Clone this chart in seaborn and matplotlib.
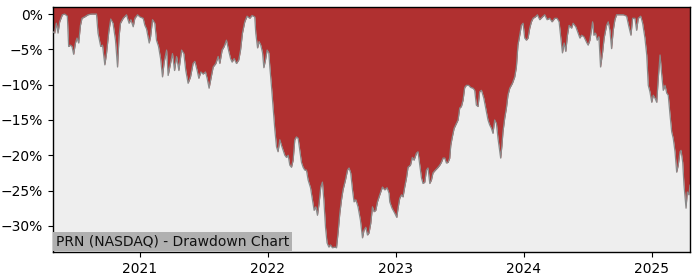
import numpy as np
import pandas as pd
import matplotlib
matplotlib.use("Agg")
import matplotlib.pyplot as plt
import matplotlib.dates as mdates
from matplotlib.ticker import FuncFormatter
import seaborn as sns

title_text = "PRN (NASDAQ) - Drawdown Chart"

# time as decimal years
years = [
    2020.323, 2020.336, 2020.349, 2020.362, 2020.375, 2020.396, 2020.414, 2020.435, 2020.445, 2020.459,
    2020.471, 2020.484, 2020.498, 2020.510, 2020.523, 2020.537, 2020.549, 2020.570, 2020.596, 2020.623,
    2020.662, 2020.674, 2020.695, 2020.709, 2020.727, 2020.740, 2020.758, 2020.773, 2020.791, 2020.810,
    2020.826, 2020.838, 2020.849, 2020.870, 2020.896, 2020.916, 2020.930, 2020.948, 2020.961, 2020.982,
    2021.000, 2021.026, 2021.039, 2021.052, 2021.073, 2021.084, 2021.099, 2021.117, 2021.130, 2021.146,
    2021.162, 2021.177, 2021.190, 2021.209, 2021.221, 2021.234, 2021.255, 2021.271, 2021.287, 2021.305,
    2021.326, 2021.344, 2021.359, 2021.377, 2021.396, 2021.416, 2021.430, 2021.448, 2021.461, 2021.477,
    2021.495, 2021.513, 2021.526, 2021.541, 2021.560, 2021.573, 2021.594, 2021.612, 2021.625, 2021.643,
    2021.659, 2021.677, 2021.693, 2021.709, 2021.721, 2021.737, 2021.755, 2021.773, 2021.787, 2021.802,
    2021.820, 2021.838, 2021.859, 2021.877, 2021.898,
    2021.906, 2021.920, 2021.932, 2021.945, 2021.959, 2021.969, 2021.982, 2021.995, 2022.008, 2022.016,
    2022.029, 2022.041, 2022.055, 2022.068, 2022.080, 2022.094, 2022.107, 2022.120, 2022.133, 2022.146,
    2022.159, 2022.172, 2022.185, 2022.198, 2022.211, 2022.224, 2022.237, 2022.250, 2022.263, 2022.276,
    2022.289, 2022.302, 2022.315,
    2022.334, 2022.349, 2022.362, 2022.375, 2022.388, 2022.401, 2022.414, 2022.427, 2022.438, 2022.451,
    2022.463, 2022.477, 2022.490, 2022.505, 2022.523, 2022.537, 2022.549, 2022.563, 2022.576, 2022.588,
    2022.607, 2022.623, 2022.635, 2022.648, 2022.662, 2022.674, 2022.688, 2022.705, 2022.724, 2022.740,
    2022.752, 2022.766, 2022.779, 2022.791, 2022.805, 2022.818, 2022.830, 2022.844, 2022.857, 2022.875,
    2022.896, 2022.914, 2022.932, 2022.948,
    2022.953, 2022.971, 2022.992, 2023.008, 2023.018, 2023.031, 2023.045, 2023.057, 2023.070, 2023.084,
    2023.096, 2023.115, 2023.130, 2023.143, 2023.162, 2023.174, 2023.188, 2023.201, 2023.213, 2023.227,
    2023.240, 2023.252, 2023.266, 2023.279, 2023.291, 2023.310, 2023.326, 2023.344, 2023.357, 2023.370,
    2023.383, 2023.396, 2023.409, 2023.422, 2023.430, 2023.440, 2023.456, 2023.474, 2023.487, 2023.500,
    2023.513, 2023.526, 2023.539, 2023.552, 2023.570, 2023.586, 2023.604, 2023.617,
    2023.630, 2023.643, 2023.656, 2023.670, 2023.688, 2023.709, 2023.721, 2023.734, 2023.748, 2023.760,
    2023.773, 2023.787, 2023.799, 2023.813, 2023.820, 2023.830, 2023.838, 2023.852, 2023.865, 2023.877,
    2023.891, 2023.912, 2023.930, 2023.943, 2023.955, 2023.969, 2023.982, 2023.995, 2024.008, 2024.021,
    2024.034, 2024.047, 2024.060, 2024.073, 2024.091, 2024.107, 2024.125, 2024.146, 2024.164, 2024.182,
    2024.203, 2024.221, 2024.242, 2024.260, 2024.276, 2024.287, 2024.302, 2024.315, 2024.328, 2024.341,
    2024.354, 2024.373, 2024.385, 2024.406, 2024.424,
    2024.438, 2024.451, 2024.469, 2024.490, 2024.502, 2024.516, 2024.537, 2024.547, 2024.560, 2024.573,
    2024.586, 2024.599, 2024.615, 2024.627, 2024.646, 2024.659, 2024.672, 2024.685, 2024.698, 2024.711,
    2024.724, 2024.750, 2024.776, 2024.802, 2024.820, 2024.836, 2024.849, 2024.867, 2024.880, 2024.893,
    2024.912, 2024.927, 2024.945, 2024.959, 2024.971, 2024.984, 2024.998, 2025.010, 2025.023, 2025.037,
    2025.049, 2025.063, 2025.076, 2025.088, 2025.102, 2025.115, 2025.127, 2025.141, 2025.154, 2025.166,
    2025.180, 2025.193, 2025.205, 2025.219, 2025.227, 2025.240, 2025.250, 2025.266, 2025.276, 2025.289,
    2025.297,
]

drawdown_pct = [
    -2.5, -2.7, -1.3, -2.7, -1.1, -0.1, 0.0, -0.3, -4.6, -4.4,
    -4.6, -5.7, -4.1, -3.4, -4.1, -1.6, -0.6, -0.4, -0.1, 0.0,
    0.0, -2.7, -4.6, -4.4, -7.2, -5.6, -2.5, -0.7, -1.3, -3.7,
    -7.5, -3.2, -1.3, -0.6, -0.1, -1.3, -0.8, -1.8, -0.6, -0.1,
    -0.4, -0.6, -1.6, -2.1, -4.1, -3.2, -0.8, -1.3, -3.7, -4.6,
    -6.3, -8.9, -6.8, -5.1, -8.7, -7.5, -5.6, -8.0, -6.0, -8.0,
    -5.1, -5.6, -8.0, -9.8, -8.9, -7.0, -6.7, -8.0, -9.1, -8.2,
    -8.5, -8.2, -9.1, -10.5, -8.7, -7.5, -7.0, -6.0, -7.0, -5.1,
    -4.6, -3.7, -5.1, -6.3, -6.8, -6.3, -7.0, -6.5, -5.1, -2.7,
    -1.1, -0.3, -0.6, -0.2, -0.4,
    -2.7, -4.8, -3.9, -4.4, -5.5, -7.6, -6.5, -5.1, -5.5, -7.5,
    -10.3, -13.1, -16.4, -18.8, -19.5, -17.8, -18.6, -19.3, -20.0, -20.3,
    -20.0, -21.4, -21.7, -20.7, -17.8, -17.4, -17.6, -19.3, -21.0, -21.7,
    -22.1, -22.1, -23.5,
    -24.6, -26.3, -27.8, -27.3, -28.5, -26.8, -24.5, -23.8, -26.3, -30.2,
    -32.4, -33.0, -32.7, -33.1, -33.0, -33.1, -31.0, -28.2, -26.3, -24.9,
    -23.5, -22.1, -21.8, -22.5, -24.9, -26.6, -26.3, -27.3, -29.2, -31.7,
    -30.6, -30.2, -31.3, -31.0, -29.6, -27.3, -28.0, -27.8, -26.6, -25.6,
    -24.5, -24.9, -24.6, -25.4,
    -26.6, -27.5, -28.2, -28.8, -27.5, -26.1, -25.6, -25.9, -24.5, -23.2,
    -21.7, -21.4, -20.3, -20.7, -19.7, -19.5, -21.4, -23.2, -24.0, -23.8,
    -22.1, -21.8, -24.0, -23.5, -22.5, -22.1, -21.8, -21.4, -21.0, -20.4,
    -20.4, -21.1, -21.0, -20.4, -18.6, -17.6, -16.2, -15.5, -15.0, -13.3,
    -13.1, -12.2, -10.4, -10.1, -10.1, -10.4, -10.5, -10.8,
    -12.9, -13.1, -11.0, -10.8, -11.9, -13.9, -15.0, -15.7, -16.2, -16.9,
    -15.0, -15.5, -17.6, -19.5, -20.4, -18.6, -16.7, -14.7, -13.3, -11.5,
    -10.5, -9.8, -8.9, -7.5, -4.4, -3.0, -1.6, -1.3, -3.4, -3.7,
    -3.4, -2.0, -1.1, -0.6, -0.4, -0.1, -0.8, -0.4, -0.1, -0.8,
    -0.6, -1.1, -0.6, -0.6, -1.1, -3.0, -5.5, -4.1, -5.3, -3.0,
    -1.6, -2.0, -1.3, -1.8, -2.7,
    -3.4, -3.0, -3.2, -4.0, -4.4, -3.7, -1.1, -3.0, -2.7, -3.7,
    -3.2, -7.5, -5.4, -3.4, -1.6, -1.1, -2.3, -4.9, -2.3, -0.8,
    -0.1, -0.1, -0.1, -0.3, -1.8, -3.0, -0.6, -0.6, -2.3, -0.6,
    -0.3, -1.3, -3.4, -5.8, -10.1, -11.0, -12.5, -11.5, -11.9, -12.5,
    -9.1, -5.8, -8.6, -10.8, -10.1, -11.2, -11.5, -14.3, -16.7, -17.6,
    -19.5, -22.4, -21.4, -19.5, -19.3, -21.0, -24.2, -27.5, -25.2, -25.6,
    -24.2,
]

y_ticks = [0, -5, -10, -15, -20, -25, -30]


def decimal_year_to_ts(y):
    yr = int(np.floor(y))
    start = pd.Timestamp(year=yr, month=1, day=1)
    end = pd.Timestamp(year=yr + 1, month=1, day=1)
    return start + (end - start) * (y - yr)


dates = [decimal_year_to_ts(y) for y in years]
df = pd.DataFrame({"date": dates, "dd": drawdown_pct})

sns.set_style("ticks")
plt.rcParams["font.family"] = ["DejaVu Sans"]

fig = plt.figure(figsize=(7.0, 2.8), dpi=100)
ax = fig.add_axes([0.0757, 0.1, 0.91, 0.875])
ax.set_facecolor("#eeeeee")

y_top, y_bottom = 1.0, -33.7
ax.set_ylim(y_bottom, y_top)
ax.fill_between(df["date"], df["dd"], y_top, color="#b03030", linewidth=0, zorder=2)
sns.lineplot(data=df, x="date", y="dd", ax=ax, color="#8a8a8a", linewidth=0.9, zorder=3)

ax.set_xlim(df["date"].iloc[0], df["date"].iloc[-1])
ax.set_ylim(y_bottom, y_top)
ax.set_yticks(y_ticks)
ax.yaxis.set_major_formatter(FuncFormatter(lambda v, p: f"{int(round(v))}%".replace("-", "\u2212")))
ax.xaxis.set_major_locator(mdates.YearLocator())
ax.xaxis.set_major_formatter(mdates.DateFormatter("%Y"))
ax.set_xlabel("")
ax.set_ylabel("")
ax.tick_params(axis="both", labelsize=10, length=3.5, width=0.8, colors="black")
for s in ax.spines.values():
    s.set_visible(True)
    s.set_color("black")
    s.set_linewidth(1.0)

ax.text(0.005, 0.015, title_text, transform=ax.transAxes, fontsize=10, color="#111111",
        ha="left", va="bottom", zorder=5,
        bbox=dict(boxstyle="square,pad=0.2", facecolor="#b0b0b0", edgecolor="none"))

fig.savefig("out.png", dpi=100)
